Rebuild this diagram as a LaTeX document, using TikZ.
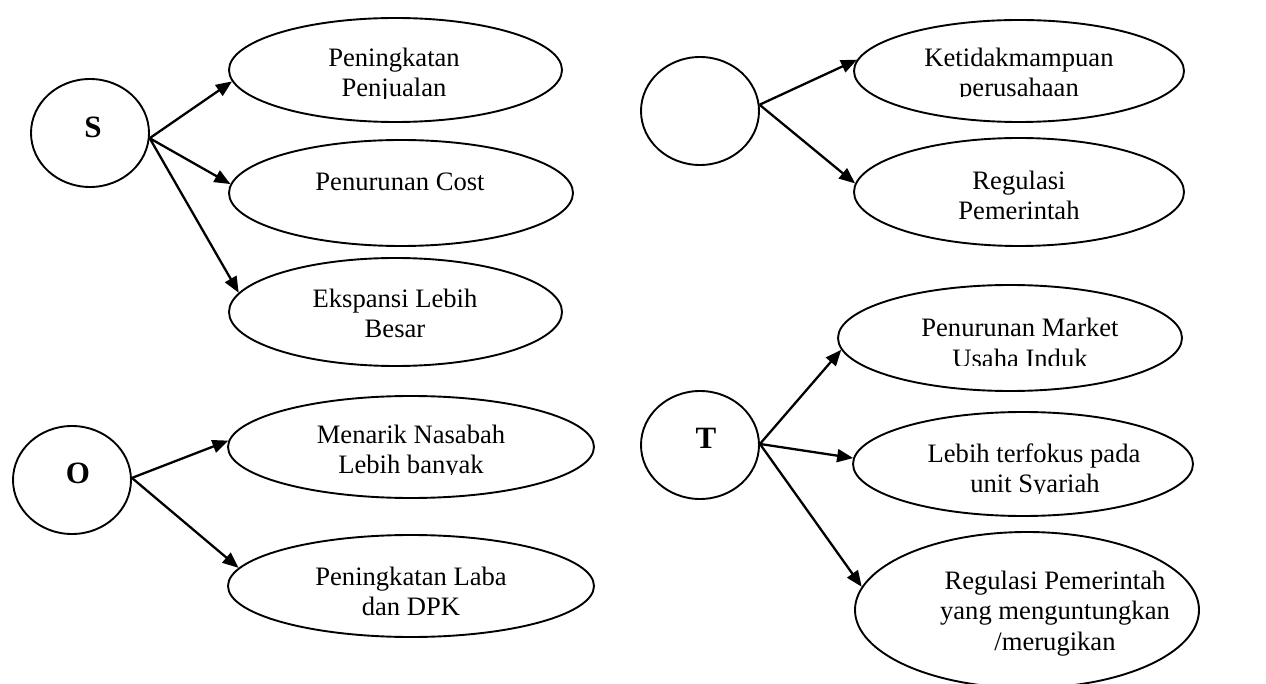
\documentclass[tikz,border=0pt]{standalone}
\usepackage{fontspec}
\setmainfont{Liberation Serif}
\usetikzlibrary{arrows.meta,shapes.geometric}
\begin{document}
\begin{tikzpicture}[x=1pt,y=-1pt,
  shapeell/.style={draw,ellipse,line width=1.9pt,inner sep=0pt},
  hub/.style={shapeell,minimum width=118pt,minimum height=108pt},
  lbl/.style={font=\fontsize{26.6}{30}\selectfont,anchor=base,inner sep=0pt},
  hubl/.style={font=\fontsize{31}{34}\selectfont\bfseries,inner sep=0pt},
  arr/.style={line width=2.3pt,-{Triangle[length=16pt,width=13pt]}}]
\useasboundingbox (0,0) rectangle (1266,684);

% hubs
\node[hub] (S) at (90,133) {};
\node[hubl] (Sl) at (93,127) {S};
\node[hub] (O) at (72,480) {};
\node[hubl] (Ol) at (78,473) {O};
\node[hub] (W) at (700,111) {};
\node[hub] (T) at (700,445) {};
\node[hubl] (Tl) at (706,438) {T};

% leaves
\node[shapeell,minimum width=333pt,minimum height=104pt] (e1) at (395.5,70) {};
\node[shapeell,minimum width=344pt,minimum height=106pt] (e2) at (401,193) {};
\node[shapeell,minimum width=333pt,minimum height=108pt] (e3) at (395.5,312) {};
\node[shapeell,minimum width=366pt,minimum height=102pt] (m1) at (411,447) {};
\node[shapeell,minimum width=366pt,minimum height=102pt] (m2) at (411,586) {};
\node[shapeell,minimum width=330pt,minimum height=102pt] (k1) at (1019,71) {};
\node[shapeell,minimum width=330pt,minimum height=108pt] (k2) at (1019,192) {};
\node[shapeell,minimum width=344pt,minimum height=106pt] (p1) at (1010,338) {};
\node[shapeell,minimum width=340pt,minimum height=104pt] (l1) at (1023,464) {};
\node[shapeell,minimum width=344pt,minimum height=156pt] (r1) at (1027,610) {};

% texts
\node[lbl] (t1a) at (394,67) {Peningkatan};
\begin{scope}
\clip (229,72) rectangle (562,98.5);
\node[lbl] (t1b) at (394,97) {Penjualan};
\end{scope}
\node[lbl] (t2a) at (400,191) {Penurunan Cost};
\node[lbl] (t3a) at (395,308) {Ekspansi Lebih};
\node[lbl] (t3b) at (395,338) {Besar};
\node[lbl] (m1a) at (411,443) {Menarik Nasabah};
\begin{scope}
\clip (229,448) rectangle (594,474);
\node[lbl] (m1b) at (411,473) {Lebih banyak};
\end{scope}
\node[lbl] (m2a) at (411,585) {Peningkatan Laba};
\node[lbl] (m2b) at (411,615) {dan DPK};
\node[lbl] (k1a) at (1019,67) {Ketidakmampuan};
\begin{scope}
\clip (854,72) rectangle (1184,96.5);
\node[lbl] (k1b) at (1019,97) {perusahaan};
\end{scope}
\node[lbl] (k2a) at (1019,190) {Regulasi};
\node[lbl] (k2b) at (1019,220) {Pemerintah};
\node[lbl] (p1a) at (1020,337) {Penurunan Market};
\begin{scope}
\clip (840,342) rectangle (1206,366);
\node[lbl] (p1b) at (1020,367) {Usaha Induk};
\end{scope}
\node[lbl] (l1a) at (1034,462) {Lebih terfokus pada};
\begin{scope}
\clip (853,467) rectangle (1219,493);
\node[lbl] (l1b) at (1035,492) {unit Syariah};
\end{scope}
\node[lbl] (r1a) at (1055,589) {Regulasi Pemerintah};
\node[lbl] (r1b) at (1055,619) {yang menguntungkan};
\node[lbl] (r1c) at (1055,650) {/merugikan};

% arrows
\draw[arr] (S.-5) -- (e1.184);
\draw[arr] (S.-5) -- (e2.177);
\draw[arr] (S.-5) -- (e3.173);
\draw[arr] (O.2) -- (m1.178);
\draw[arr] (O.2) -- (m2.174);
\draw[arr] (W.6) -- (k1.176);
\draw[arr] (W.6) -- (k2.177);
\draw[arr] (T.1) -- (p1.184);
\draw[arr] (T.1) -- (l1.178);
\draw[arr] (T.1) -- (r1.172);
\end{tikzpicture}
\end{document}
